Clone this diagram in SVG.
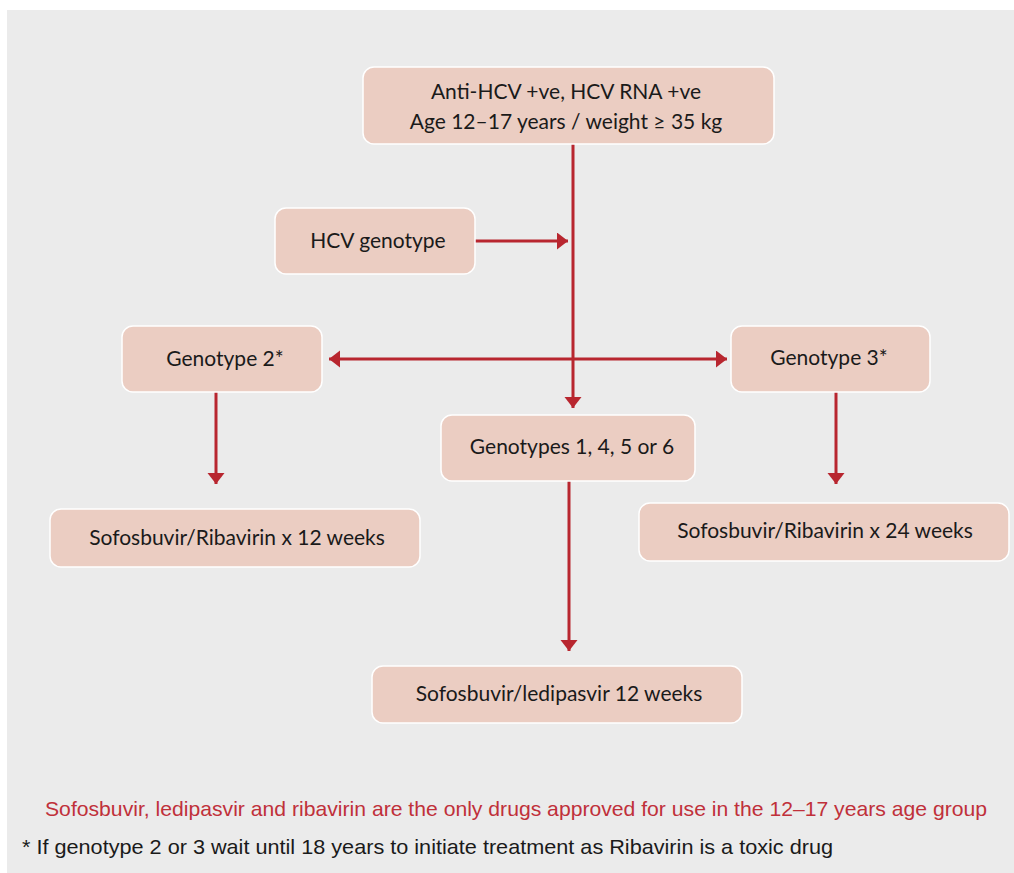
<svg xmlns="http://www.w3.org/2000/svg" width="1014" height="873" viewBox="0 0 1014 873">
<style>
.box{fill:#ebcdc2;stroke:#ffffff;stroke-width:1.5}
.t{font-family:Lato,"Open Sans",sans-serif;font-size:21px;fill:#1a1a1a;text-anchor:middle}
.c{fill:none;stroke:#b8262f;stroke-width:3}
.n{font-family:"Liberation Sans",Arial,sans-serif;font-size:21px}
</style>
<defs>
<marker id="ah" markerUnits="userSpaceOnUse" markerWidth="12" markerHeight="18" refX="11" refY="8.5" orient="auto-start-reverse" viewBox="0 0 12 18">
<path d="M0,0 L11,8.5 L0,17 z" fill="#b8262f"/>
</marker>
</defs>
<rect x="7" y="10" width="1007" height="863" fill="#ebebeb"/>
<g id="connectors">
<path class="c" d="M573,144 V408" marker-end="url(#ah)"/>
<path class="c" d="M475,241 H568" marker-end="url(#ah)"/>
<path class="c" d="M329,359 H727" marker-start="url(#ah)" marker-end="url(#ah)"/>
<path class="c" d="M216,392 V484" marker-end="url(#ah)"/>
<path class="c" d="M836,392 V484" marker-end="url(#ah)"/>
<path class="c" d="M569,481 V651" marker-end="url(#ah)"/>
</g>
<g id="n-top">
<rect class="box" x="363" y="67" width="411" height="77" rx="11"/>
<text class="t" x="566" y="99">Anti-HCV +ve, HCV RNA +ve</text>
<text class="t" x="566" y="129">Age 12–17 years / weight ≥ 35 kg</text>
</g>
<g id="n-hcv">
<rect class="box" x="275" y="208" width="200" height="66" rx="11"/>
<text class="t" x="378" y="248">HCV genotype</text>
</g>
<g id="n-g2">
<rect class="box" x="122" y="326" width="200" height="66" rx="11"/>
<text class="t" x="225" y="366">Genotype 2*</text>
</g>
<g id="n-g3">
<rect class="box" x="731" y="326" width="199" height="66" rx="11"/>
<text class="t" x="829" y="365">Genotype 3*</text>
</g>
<g id="n-g1456">
<rect class="box" x="441" y="415" width="254" height="66" rx="11"/>
<text class="t" x="572" y="454">Genotypes 1, 4, 5 or 6</text>
</g>
<g id="n-sr12">
<rect class="box" x="50" y="509" width="370" height="58" rx="11"/>
<text class="t" x="237" y="545">Sofosbuvir/Ribavirin x 12 weeks</text>
</g>
<g id="n-sr24">
<rect class="box" x="639" y="503" width="370" height="58" rx="11"/>
<text class="t" x="825" y="538">Sofosbuvir/Ribavirin x 24 weeks</text>
</g>
<g id="n-sl12">
<rect class="box" x="372" y="666" width="370" height="57" rx="11"/>
<text class="t" x="559" y="701">Sofosbuvir/ledipasvir 12 weeks</text>
</g>
<g id="notes">
<text class="n" x="45" y="816" fill="#c0303a" textLength="942" lengthAdjust="spacingAndGlyphs">Sofosbuvir, ledipasvir and ribavirin are the only drugs approved for use in the 12–17 years age group</text>
<text class="n" x="22" y="854" fill="#1a1a1a" textLength="811" lengthAdjust="spacingAndGlyphs">* If genotype 2 or 3 wait until 18 years to initiate treatment as Ribavirin is a toxic drug</text>
</g>
</svg>
